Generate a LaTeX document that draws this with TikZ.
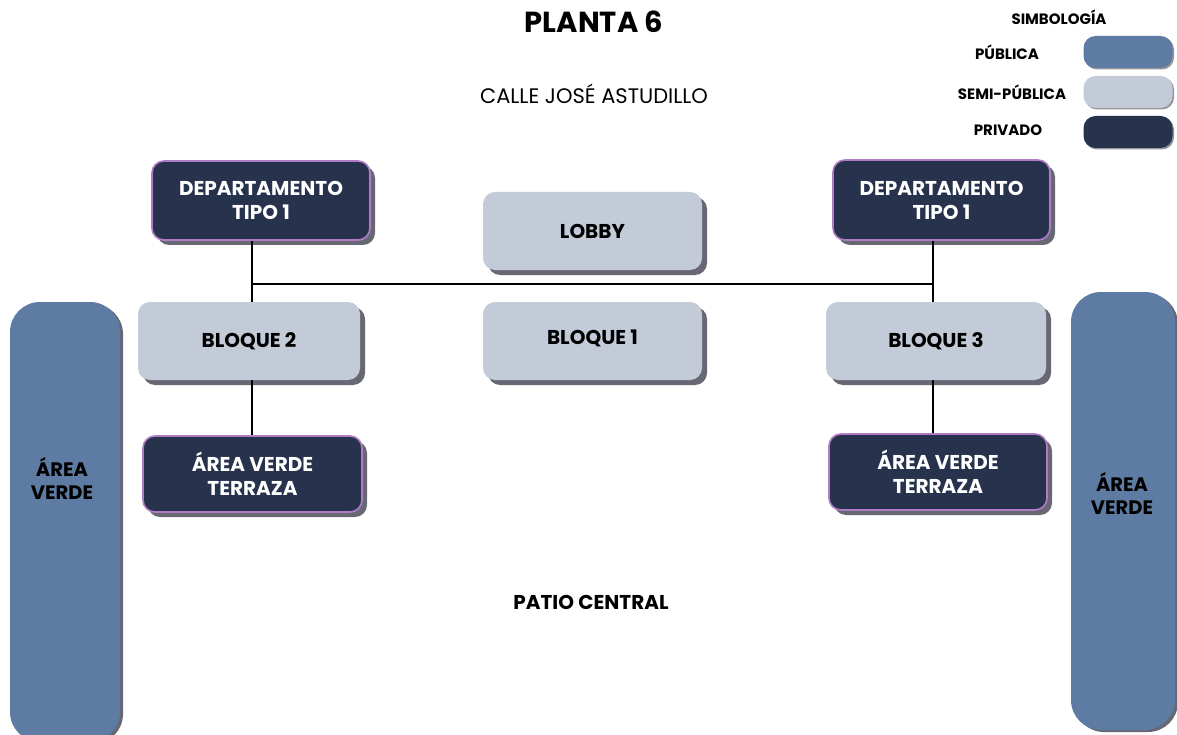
\documentclass[tikz,border=0pt]{standalone}
\usepackage{fontspec}
\setmainfont{Poppins}
\usetikzlibrary{shadows}
\definecolor{priv}{HTML}{27324D}
\definecolor{semi}{HTML}{C3CAD8}
\definecolor{pub}{HTML}{5E7BA3}
\definecolor{shd}{HTML}{686874}
\definecolor{purp}{HTML}{B07CC6}
\tikzset{
  box/.style={rounded corners=12pt, inner sep=0pt, align=center, font=\bfseries\fontsize{20}{24}\selectfont,
    drop shadow={shadow xshift=5pt, shadow yshift=-5pt, opacity=1, fill=shd}},
  privbox/.style={box, fill=priv, draw=purp, line width=1.6pt, text=white},
  semibox/.style={box, fill=semi, text=black},
  pubbox/.style={rounded corners=30pt, inner sep=0pt, fill=pub,
    drop shadow={shadow xshift=3pt, shadow yshift=-2pt, opacity=1, fill=shd}},
  legbox/.style={rounded corners=12pt, inner sep=0pt, minimum width=89pt, minimum height=32pt,
    drop shadow={shadow xshift=1.5pt, shadow yshift=-1.5pt, opacity=1, fill=shd!70}},
  leg/.style={font=\bfseries\fontsize{15}{18}\selectfont, text=black},
  conn/.style={line width=1.3pt, black},
  lbl/.style={font=\bfseries\fontsize{19.5}{23}\selectfont, align=center, text=black}
}
\begin{document}
\begin{tikzpicture}[x=1pt,y=-1pt]
\useasboundingbox (0,0) rectangle (1177,735);
\fill[white] (0,0) rectangle (1177,735);
% titles
\node[font=\bfseries\fontsize{29}{32}\selectfont] (title) at (594,22) {PLANTA 6};
\node[font=\fontsize{21}{24}\selectfont] (calle) at (594,94) {CALLE JOSÉ ASTUDILLO};
\node[font=\bfseries\fontsize{20}{23}\selectfont] (patio) at (591,602) {PATIO CENTRAL};
% legend
\node[leg] (simb) at (1059,17) {SIMBOLOGÍA};
\node[leg] (lpubt) at (1007,52) {PÚBLICA};
\node[leg] (lsemit) at (1012,92) {SEMI-PÚBLICA};
\node[leg] (lprivt) at (1008,130) {PRIVADO};
\node[legbox, fill=pub] (lpub) at (1128,52) {};
\node[legbox, fill=semi] (lsemi) at (1128,92) {};
\node[legbox, fill=priv] (lpriv) at (1128,132) {};
% green areas
\node[pubbox, minimum width=110pt, minimum height=440pt] (avl) at (65,522) {};
\node[lbl] (avlt) at (62,478) {ÁREA\\VERDE};
\node[pubbox, minimum width=104pt, minimum height=438pt] (avr) at (1123,511) {};
\node[lbl] (avrt) at (1122,493) {ÁREA\\VERDE};
% boxes
\node[privbox, minimum width=218pt, minimum height=79pt] (dl) at (261,200.5) {DEPARTAMENTO\\TIPO 1};
\node[privbox, minimum width=217pt, minimum height=80pt] (dr) at (941.5,200) {DEPARTAMENTO\\TIPO 1};
\node[semibox, minimum width=219pt, minimum height=78pt] (lobby) at (592.5,231) {LOBBY};
\node[semibox, minimum width=222pt, minimum height=78pt] (b2) at (249,341) {BLOQUE 2};
\node[semibox, minimum width=219pt, minimum height=78pt, text depth=8pt] (b1) at (592.5,341) {BLOQUE 1};
\node[semibox, minimum width=220pt, minimum height=78pt] (b3) at (936,341) {BLOQUE 3};
\node[privbox, minimum width=219pt, minimum height=76pt] (tl) at (252.5,474) {ÁREA VERDE\\TERRAZA};
\node[privbox, minimum width=218pt, minimum height=76pt] (tr) at (938,472) {ÁREA VERDE\\TERRAZA};
% connectors
\coordinate (jl) at (252,284);
\coordinate (jr) at (933,284);
\draw[conn] (jl |- dl.south) -- (jl |- b2.north);
\draw[conn] (jr |- dr.south) -- (jr |- b3.north);
\draw[conn] (jl) -- (jr);
\draw[conn] (jl |- b2.south) -- (jl |- tl.north);
\draw[conn] (jr |- b3.south) -- (jr |- tr.north);
\end{tikzpicture}
\end{document}
